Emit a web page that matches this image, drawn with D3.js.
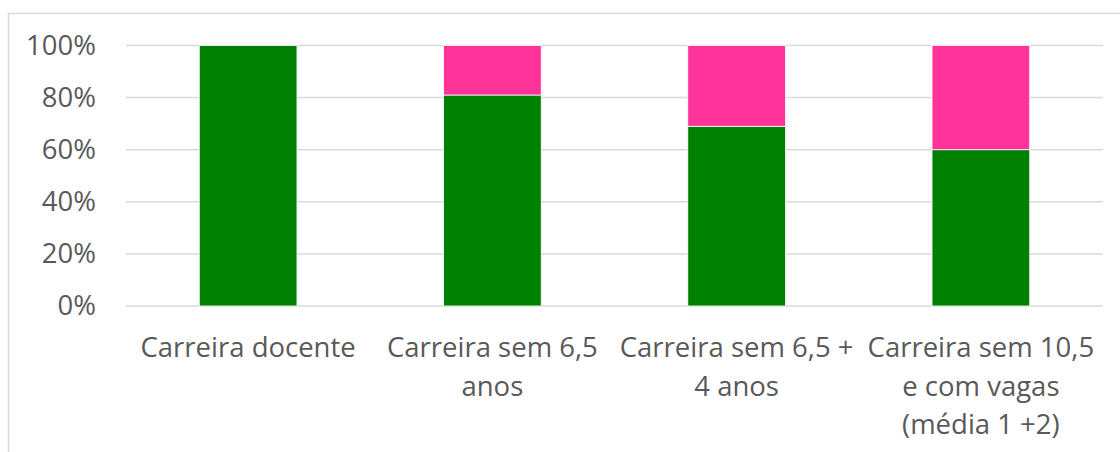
<!DOCTYPE html>
<html>
<head>
<meta charset="utf-8">
<script src="https://cdn.jsdelivr.net/npm/d3@7"></script>
<style>
  body { margin: 0; background: #fff; }
  svg { display: block; }
</style>
</head>
<body>
<div id="chart"></div>
<script>
// data
var categories = ["Carreira docente", "Carreira sem 6,5 anos", "Carreira sem 6,5 + 4 anos", "Carreira sem 10,5 e com vagas (média 1 +2)"];
var labelLines = [
  ["Carreira docente"],
  ["Carreira sem 6,5", "anos"],
  ["Carreira sem 6,5 +", "4 anos"],
  ["Carreira sem 10,5", "e com vagas", "(média 1 +2)"]
];
var greenValues = [100, 81, 69, 60];
var pinkValues = [0, 19, 31, 40];
var yTicks = [0, 20, 40, 60, 80, 100];

var W = 1120, H = 452;
var margin = {top: 45.5, right: 17, bottom: 146, left: 126};
var width = W - margin.left - margin.right,
    height = H - margin.top - margin.bottom;

var svg = d3.select("#chart").append("svg")
  .attr("width", W)
  .attr("height", H);

// chart border
svg.append("rect")
  .attr("x", 8.5).attr("y", 13.5)
  .attr("width", W).attr("height", H)
  .attr("fill", "none")
  .attr("stroke", "#d9d9d9")
  .attr("stroke-width", 1.5);

var g = svg.append("g")
  .attr("transform", "translate(" + margin.left + "," + margin.top + ")");

var x = d3.scaleBand()
  .domain(categories)
  .range([0, width])
  .paddingInner(0.6)
  .paddingOuter(0.3);

var y = d3.scaleLinear()
  .domain([0, 100])
  .range([height, 0]);

// gridlines
g.append("g")
  .selectAll("line")
  .data(yTicks)
  .enter().append("line")
    .attr("x1", 0).attr("x2", width)
    .attr("y1", function(d) { return y(d); })
    .attr("y2", function(d) { return y(d); })
    .attr("stroke", "#d9d9d9")
    .attr("stroke-width", 1.5);

// y axis labels
var yAxis = g.append("g")
  .call(d3.axisLeft(y).tickValues(yTicks).tickSize(0).tickPadding(30)
    .tickFormat(function(d) { return d + "%"; }));
yAxis.select(".domain").remove();
yAxis.selectAll("text")
  .attr("fill", "#595959")
  .style("font-family", "'Open Sans', sans-serif")
  .style("font-size", "27.5px");

// stacked bars
var stack = categories.map(function(c, i) {
  return {cat: c, green: greenValues[i], pink: pinkValues[i]};
});

g.append("g").selectAll("rect")
  .data(stack)
  .enter().append("rect")
    .attr("x", function(d) { return x(d.cat); })
    .attr("width", x.bandwidth())
    .attr("y", function(d) { return y(d.green); })
    .attr("height", function(d) { return y(0) - y(d.green); })
    .attr("fill", "#008000")
    .attr("stroke", "#ffffff")
    .attr("stroke-width", 0.8);

g.append("g").selectAll("rect")
  .data(stack.filter(function(d) { return d.pink > 0; }))
  .enter().append("rect")
    .attr("x", function(d) { return x(d.cat); })
    .attr("width", x.bandwidth())
    .attr("y", function(d) { return y(d.green + d.pink); })
    .attr("height", function(d) { return y(d.green) - y(d.green + d.pink); })
    .attr("fill", "#ff3399")
    .attr("stroke", "#ffffff")
    .attr("stroke-width", 0.8);

// category labels
var labels = g.append("g").selectAll("text")
  .data(categories)
  .enter().append("text")
    .attr("x", function(d) { return x(d) + x.bandwidth() / 2; })
    .attr("y", height + 51)
    .attr("text-anchor", "middle")
    .attr("fill", "#595959")
    .style("font-family", "'Open Sans', sans-serif")
    .style("font-size", "27.5px");

labels.selectAll("tspan")
  .data(function(d, i) { return labelLines[i]; })
  .enter().append("tspan")
    .attr("x", function() { var c = d3.select(this.parentNode).datum(); return x(c) + x.bandwidth() / 2; })
    .attr("dy", function(d, i) { return i === 0 ? 0 : 38.5; })
    .text(function(d) { return d; });
</script>
</body>
</html>
